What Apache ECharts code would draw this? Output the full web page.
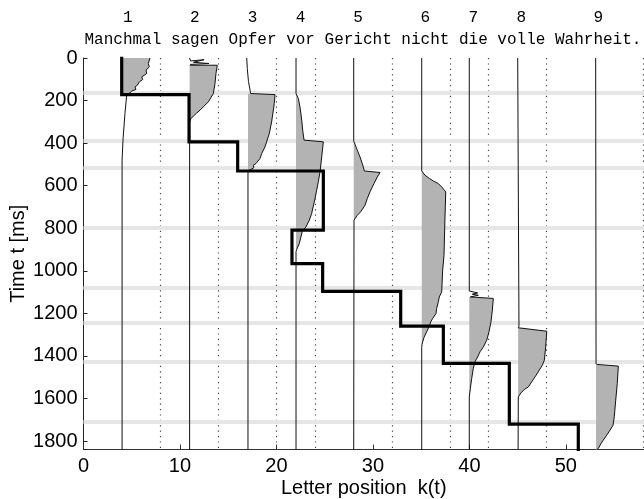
<!DOCTYPE html>
<html>
<head>
<meta charset="utf-8">
<script src="https://cdn.jsdelivr.net/npm/echarts@6/dist/echarts.min.js"></script>
<style>
html, body { margin: 0; padding: 0; background: #fff; }
#chart { width: 644px; height: 499px; }
</style>
</head>
<body>
<div id="chart"></div>
<script>
// words of the sentence, numbered above the plot
var words = ['Manchmal', 'sagen', 'Opfer', 'vor', 'Gericht', 'nicht', 'die', 'volle', 'Wahrheit.'];
var wordNumbers = ['1', '2', '3', '4', '5', '6', '7', '8', '9'];

// letter positions of the word start lines (solid) and word centre lines (dotted)
var lineK = [4, 11, 17.05, 22.03, 28.01, 35.06, 39.99, 45.05, 53.13];
var midK = [8, 14, 20, 24, 32, 38, 42, 48, 58];

// times [ms] of the word boundaries (light grey bands)
var boundaryT = [164, 387, 517, 797, 1081, 1246, 1427, 1709];

// decoded path k(t), thick staircase
var stepK = [3.96, 3.96, 10.94, 10.94, 15.98, 15.98, 24.86, 24.86, 21.61, 21.61, 24.79, 24.79, 32.88, 32.88, 37.3, 37.3, 44.14, 44.14, 51.29, 51.29];
var stepT = [0, 172, 172, 394, 394, 531, 531, 809, 809, 966, 966, 1097, 1097, 1260, 1260, 1435, 1435, 1721, 1721, 1840];

// profile line of each word, [k, t]
var profile1 = [[6.89,0],[6.72,26],[6.82,42],[6.48,57],[6.55,73],[6.03,89],[6.14,101],[5.79,112],[5.58,128],[5.34,136],[5.44,148],[5.0,155],[4.82,164],[4.48,172],[4.3,260],[4.1,380],[4.0,480],[4.0,1840]];
var profile2 = [[11,0],[11.1,14],[12.5,8],[11.4,20],[13.0,26],[11.1,30],[11.05,34],[13.87,34],[13.73,73],[13.63,120],[13.46,167],[12.94,206],[12.5,226],[12.08,245],[11.7,260],[11.38,273],[11.14,285],[11,300],[11,1840]];
var profile3 = [[16.92,0],[16.98,50],[17.1,110],[17.33,167],[19.85,172],[19.78,214],[19.5,300],[19.26,355],[18.81,418],[18.47,449],[18.3,472],[17.88,496],[17.6,504],[17.67,515],[17.26,527],[17.05,531],[17.05,1840]];
var profile4 = [[22.03,0],[22.03,167],[22.27,190],[22.44,230],[22.62,292],[22.72,339],[22.86,386],[24.86,394],[24.69,465],[24.52,535],[24.34,582],[24.17,621],[24.0,660],[23.65,731],[23.41,762],[23.06,794],[22.78,809],[22.68,815],[22.37,872],[22.1,900],[22.03,910],[22.03,1840]];
var profile5 = [[28.01,0],[28.01,390],[28.14,405],[28.38,433],[28.66,465],[28.9,496],[29.11,531],[30.74,538],[30.46,559],[30.11,590],[29.7,629],[29.42,660],[29.18,692],[28.73,723],[28.38,739],[28.04,762],[28.01,1840]];
var profile6 = [[35.06,0],[35.06,531],[35.4,551],[35.85,566],[36.26,578],[36.78,590],[37.13,606],[37.55,629],[37.47,747],[37.37,927],[37.23,997],[37.13,1099],[36.88,1123],[36.78,1146],[36.61,1177],[36.54,1201],[36.2,1224],[35.99,1240],[35.85,1260],[35.57,1287],[35.3,1313],[35.09,1345],[35.06,1360],[35.06,1840]];
var profile7 = [[39.99,0],[39.99,1095],[40.86,1104],[40.3,1110],[40.93,1115],[40.1,1123],[42.48,1130],[42.38,1185],[42.24,1240],[42.03,1287],[41.8,1326],[41.45,1358],[41.1,1381],[40.86,1405],[40.58,1428],[40.41,1459],[40.24,1506],[40.1,1553],[39.99,1593],[39.99,1840]];
var profile8 = [[45.01,0],[45.08,700],[45.14,1260],[45.07,1268],[48.02,1284],[47.91,1358],[47.77,1420],[47.56,1444],[47.14,1475],[46.8,1499],[46.46,1522],[46.11,1546],[45.69,1558],[45.35,1574],[45.07,1593],[45.05,1840]];
var profile9 = [[53.09,0],[53.13,1436],[53.2,1440],[55.44,1448],[55.33,1530],[55.17,1608],[55.02,1686],[54.89,1726],[54.58,1749],[54.23,1773],[53.88,1796],[53.64,1812],[53.37,1835],[53.23,1840]];
var profiles = [profile1, profile2, profile3, profile4, profile5, profile6, profile7, profile8, profile9];

// index range of each profile that is shaded grey
var fillRanges = [[0, 13], [6, 16], [3, 15], [1, 19], [1, 15], [1, 22], [5, 18], [3, 14], [1, 13]];

var kMax = 58.1, tMax = 1840;

var chart = echarts.init(document.getElementById('chart'));

var sansFont = 'Liberation Sans';
var monoFont = 'Liberation Mono';

chart.setOption({
  animation: false,
  backgroundColor: '#fff',
  grid: { left: 83.5, top: 58, right: 0, bottom: 49.5, containLabel: false, outerBoundsMode: 'none' },
  xAxis: {
    type: 'value', min: 0, max: kMax, interval: 10,
    name: 'Letter position  k(t)', nameLocation: 'middle', nameGap: 29, nameMoveOverlap: false,
    nameTextStyle: { fontFamily: sansFont, fontSize: 20, color: '#000' },
    axisLine: { onZero: false, lineStyle: { color: '#333', width: 1 } },
    axisTick: { inside: true, length: 5, lineStyle: { color: '#333' } },
    axisLabel: {
      fontFamily: sansFont, fontSize: 20, color: '#000', margin: 7,
      formatter: function (v) { return v % 10 === 0 ? String(v) : ''; }
    },
    splitLine: { show: false }
  },
  yAxis: {
    type: 'value', min: 0, max: tMax, interval: 200, inverse: true,
    name: 'Time t [ms]', nameLocation: 'middle', nameGap: 55, nameMoveOverlap: false,
    nameTextStyle: { fontFamily: sansFont, fontSize: 20, color: '#000' },
    axisLine: { onZero: false, lineStyle: { color: '#222', width: 1 } },
    axisTick: { inside: true, length: 4, lineStyle: { color: '#222' } },
    axisLabel: {
      fontFamily: sansFont, fontSize: 20, color: '#000', margin: 6,
      formatter: function (v) { return v % 200 === 0 ? String(v) : ''; }
    },
    splitLine: { show: false }
  },
  series: [
    {
      name: 'word centres', type: 'lines', coordinateSystem: 'cartesian2d', z: 1,
      silent: true,
      lineStyle: { color: '#444', width: 1.2, type: [1.2, 4.2], opacity: 1 },
      data: midK.map(function (k) { return { coords: [[k, 0], [k, tMax]] }; })
    },
    {
      name: 'word boundaries', type: 'lines', coordinateSystem: 'cartesian2d', z: 2,
      silent: true,
      lineStyle: { color: '#e6e6e6', width: 4, opacity: 1 },
      data: boundaryT.map(function (t) { return { coords: [[0, t], [kMax, t]] }; })
    },
    {
      name: 'shading', type: 'custom', coordinateSystem: 'cartesian2d', z: 3,
      silent: true,
      data: profiles.map(function (p, i) { return [lineK[i], p[0][1], i]; }),
      encode: { x: 0, y: 1 },
      renderItem: function (params, api) {
        var i = api.value(2);
        var r = fillRanges[i];
        var pts = profiles[i].slice(r[0], r[1] + 1);
        pts.push([lineK[i], pts[pts.length - 1][1]]);
        pts.push([lineK[i], pts[0][1]]);
        return {
          type: 'polygon',
          shape: { points: pts.map(function (p) { return api.coord(p); }) },
          style: { fill: '#b3b3b3', stroke: null }
        };
      }
    },
    {
      name: 'profiles', type: 'lines', coordinateSystem: 'cartesian2d', polyline: true, z: 4,
      silent: true,
      lineStyle: { color: '#111', width: 1, opacity: 1 },
      data: profiles.map(function (p) { return { coords: p }; })
    },
    {
      name: 'k(t)', type: 'line', z: 5, symbol: 'none', silent: true,
      lineStyle: { color: '#000', width: 3.2, join: 'miter', cap: 'square' },
      data: stepK.map(function (k, i) { return [k, stepT[i]]; })
    }
  ]
});

// sentence and word numbers, monospace, aligned to letter positions
var sentence = words.join(' ');
var numberRow = new Array(sentence.length + 1).join(' ').split('');
var col = 0;
words.forEach(function (w, i) {
  numberRow[col + Math.floor(w.length / 2)] = wordNumbers[i];
  col += w.length + 1;
});
var textX = chart.convertToPixel({ xAxisIndex: 0 }, 0) + 1;

chart.setOption({
  graphic: [
    {
      type: 'text', left: textX, top: 10,
      style: { text: numberRow.join(''), font: '16px "' + monoFont + '"', fill: '#000' }
    },
    {
      type: 'text', left: textX, top: 32,
      style: { text: sentence, font: '16px "' + monoFont + '"', fill: '#000' }
    }
  ]
});
</script>
</body>
</html>
